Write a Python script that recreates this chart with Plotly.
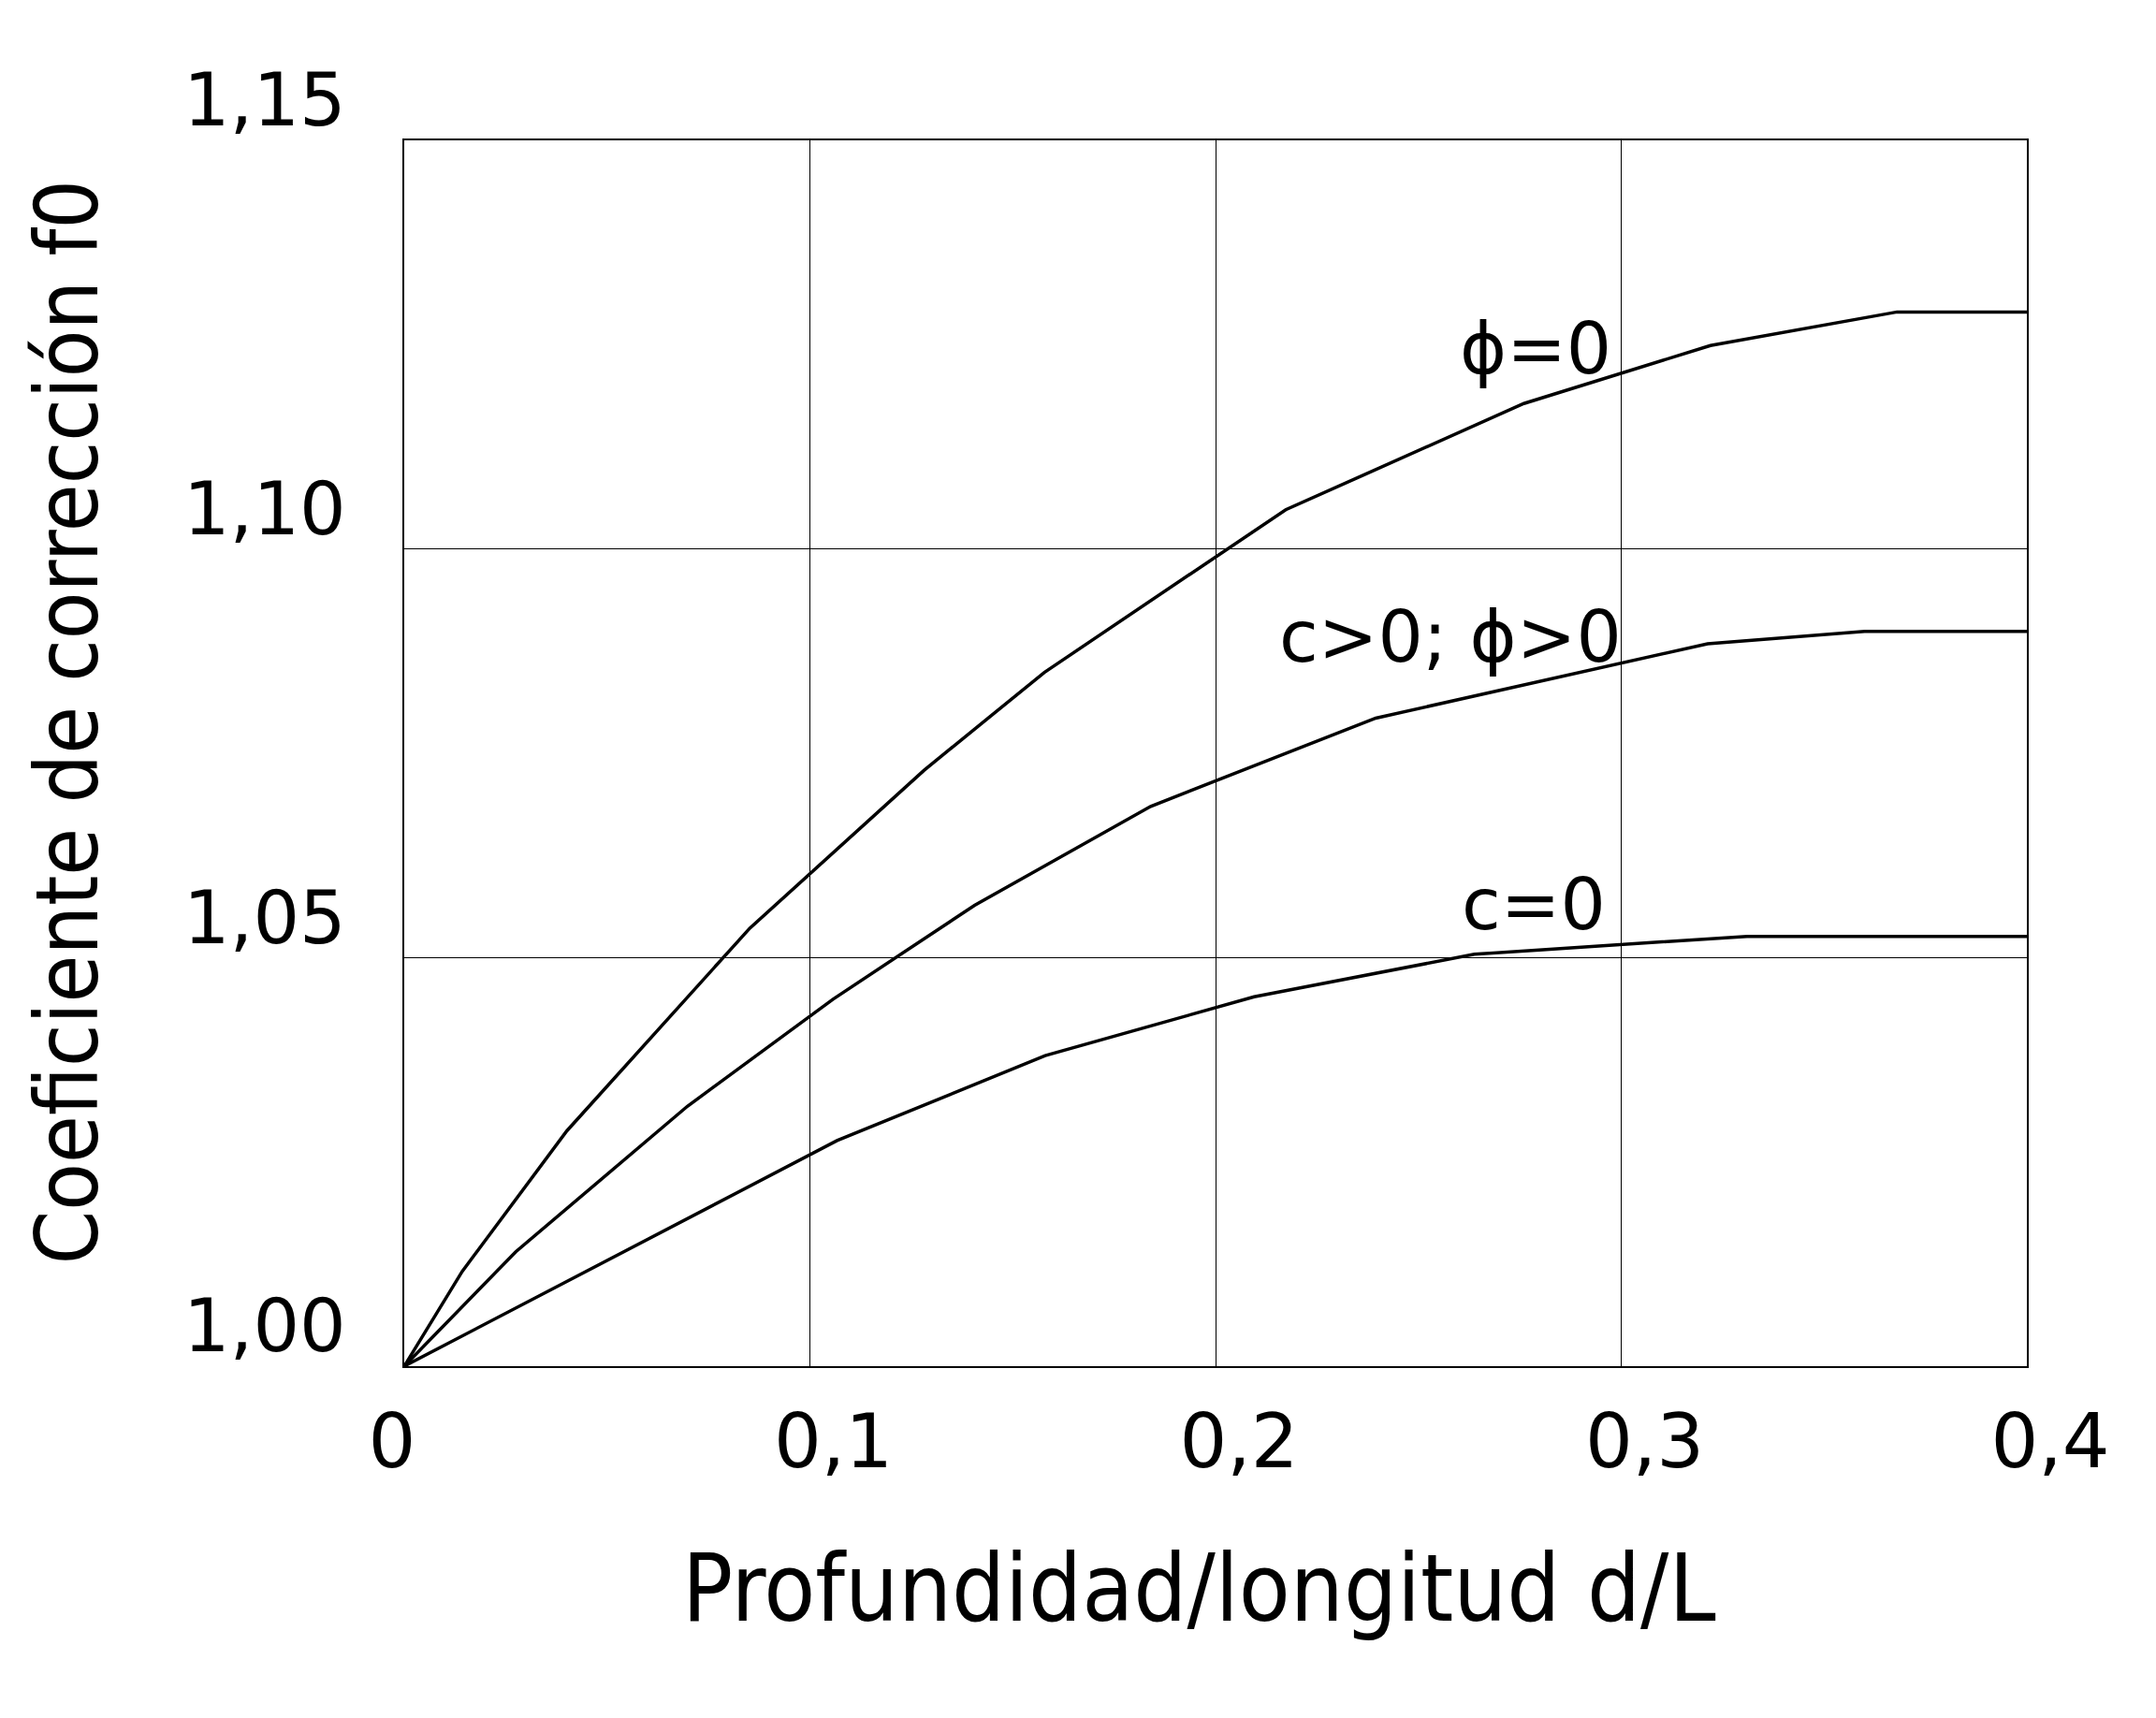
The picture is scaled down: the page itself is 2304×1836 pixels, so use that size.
import plotly.graph_objects as go

# d/L ratio and correction factor f0
x_phi0 = [0, 0.0143, 0.0401, 0.0852, 0.1281, 0.1578, 0.2173, 0.2760, 0.3220, 0.3680, 0.4]
y_phi0 = [1.0, 1.0116, 1.0288, 1.0536, 1.0729, 1.0849, 1.1048, 1.1178, 1.1249, 1.1290, 1.1290]

x_cphi = [0, 0.0275, 0.0698, 0.1057, 0.1406, 0.1840, 0.2395, 0.3213, 0.3600, 0.4]
y_cphi = [1.0, 1.0140, 1.0318, 1.0449, 1.0564, 1.0685, 1.0793, 1.0884, 1.0899, 1.0899]

x_c0 = [0, 0.1067, 0.1580, 0.2095, 0.2638, 0.3310, 0.4]
y_c0 = [1.0, 1.0276, 1.0380, 1.0452, 1.0504, 1.0526, 1.0526]

curve_labels = ["\u03d5=0", "c>0; \u03d5>0", "c=0"]
label_x = [0.2980, 0.3006, 0.2967]
label_y = [1.1245, 1.0893, 1.0565]

x_ticks = [0, 0.1, 0.2, 0.3, 0.4]
x_ticktext = ["0\u00a0\u00a0\u00a0", "0,1", "0,2", "0,3", "0,4"]
y_ticks = [1.00, 1.05, 1.10, 1.15]
y_ticktext = ["1,00", "1,05", "1,10", "1,15"]

fig = go.Figure()
for xs, ys in [(x_phi0, y_phi0), (x_cphi, y_cphi), (x_c0, y_c0)]:
    fig.add_trace(go.Scatter(x=xs, y=ys, mode="lines",
                             line=dict(color="black", width=3.5),
                             showlegend=False, hoverinfo="skip"))

for txt, lx, ly in zip(curve_labels, label_x, label_y):
    fig.add_annotation(x=lx, y=ly, text=txt, showarrow=False,
                       xanchor="right", yanchor="middle",
                       font=dict(family="DejaVu Sans", size=76, color="black"))

title_font = dict(family="DejaVu Sans Condensed, Liberation Sans Narrow, DejaVu Sans",
                  size=100, color="black")
fig.add_annotation(xref="paper", yref="paper", x=0.4900, y=-0.181,
                   text="Profundidad/longitud d/L", showarrow=False,
                   xanchor="center", yanchor="middle", font=title_font)
fig.add_annotation(xref="paper", yref="paper", x=-0.2076, y=0.5248,
                   text="Coeficiente de corrección f0", showarrow=False,
                   textangle=-90, xanchor="center", yanchor="middle",
                   font=dict(title_font, size=92))

fig.update_xaxes(range=[0, 0.4], tickvals=x_ticks, ticktext=x_ticktext,
                 showgrid=True, gridcolor="black", gridwidth=1,
                 showline=True, linecolor="black", linewidth=2, mirror=True,
                 zeroline=False, ticks="", ticklabelstandoff=10, ticklabelshift=25,
                 tickfont=dict(family="DejaVu Sans", size=80, color="black"))
fig.update_yaxes(range=[1.0, 1.15], tickvals=y_ticks, ticktext=y_ticktext,
                 showgrid=True, gridcolor="black", gridwidth=1,
                 showline=True, linecolor="black", linewidth=1.5, mirror=True,
                 zeroline=False, ticks="", ticklabelstandoff=45, ticklabelshift=-43,
                 tickfont=dict(family="DejaVu Sans", size=78, color="black"))

fig.update_layout(width=2304, height=1836,
                  margin=dict(l=424, r=146, t=142, b=384),
                  paper_bgcolor="white", plot_bgcolor="white")

fig.write_html("out.html")
